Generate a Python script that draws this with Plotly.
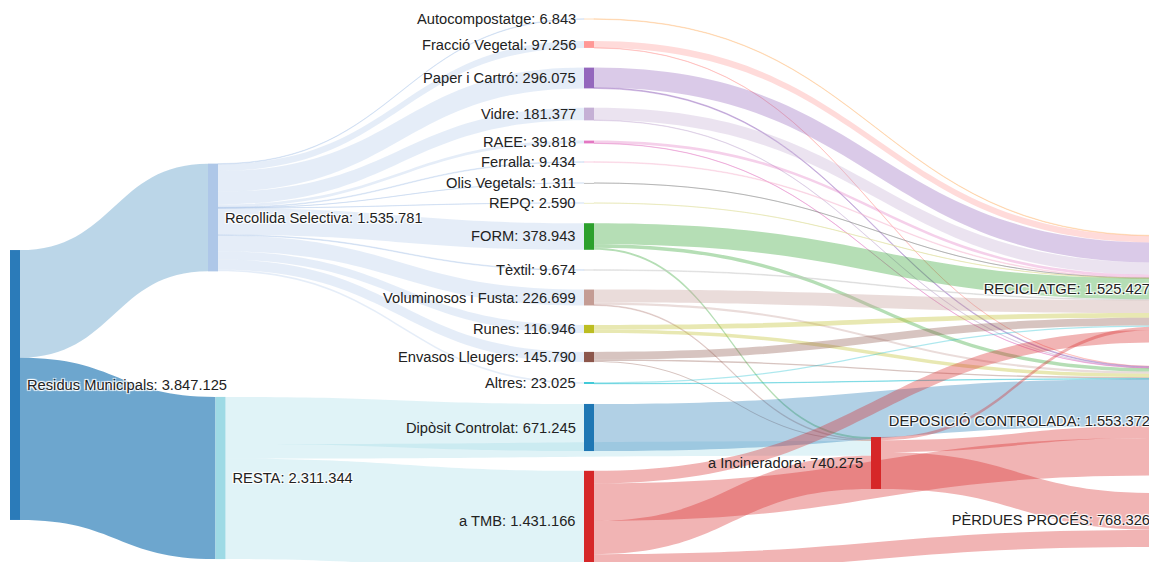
import plotly.graph_objects as go

# ---------------- data ----------------
node_names = [
    "Residus Municipals", "Recollida Selectiva", "RESTA",
    "Autocompostatge", "Fracció Vegetal", "Paper i Cartró", "Vidre", "RAEE",
    "Ferralla", "Olis Vegetals", "REPQ", "FORM", "Tèxtil",
    "Voluminosos i Fusta", "Runes", "Envasos Lleugers", "Altres",
    "Dipòsit Controlat", "a TMB", "a Incineradora",
    "RECICLATGE", "DEPOSICIÓ CONTROLADA", "PÈRDUES PROCÉS",
]
node_totals = [
    3847125, 1535781, 2311344,
    6843, 97256, 296075, 181377, 39818,
    9434, 1311, 2590, 378943, 9674,
    226699, 116946, 145790, 23025,
    671245, 1431166, 740275,
    1525427, 1553372, 768326,
]
node_colors = [
    "#2b7bb9", "#aec7e8", "#9edae5",
    "#ffbb78", "#ff9896", "#9467bd", "#c5b0d5", "#e377c2",
    "#f7b6d2", "#7f7f7f", "#dbdb8d", "#2ca02c", "#c7c7c7",
    "#c49c94", "#bcbd22", "#8c564b", "#17becf",
    "#1f77b4", "#d62728", "#d62728",
    "#98df8a", "#1f77b4", "#d62728",
]

link_source = [0, 0,
               1, 1, 1, 1, 1, 1, 1, 1, 1, 1, 1, 1, 1, 1,
               2, 2, 2,
               3, 4, 4, 5, 5, 6, 6, 7, 7, 8, 9, 10,
               11, 11, 11, 12, 13, 13, 13, 14, 14, 15, 15, 15, 16, 16,
               17,
               18, 18, 18, 18,
               19, 19, 19]
link_target = [1, 2,
               3, 4, 5, 6, 7, 8, 9, 10, 11, 12, 13, 14, 15, 16,
               17, 19, 18,
               20, 20, 21, 20, 21, 20, 21, 20, 21, 20, 20, 20,
               20, 21, 19, 20, 20, 21, 19, 20, 21, 20, 21, 19, 20, 21,
               21,
               20, 19, 21, 22,
               20, 21, 22]
link_value = [1535781, 2311344,
              6843, 97256, 296075, 181377, 39818, 9434, 1311, 2590, 378943, 9674, 226699, 116946, 145790, 23025,
              671245, 208933, 1431166,
              6843, 94256, 3000, 284075, 12000, 176377, 5000, 36818, 3000, 9434, 1311, 2590,
              298943, 50000, 30000, 9674, 185000, 30000, 11699, 66946, 50000, 110000, 20000, 15790, 18160, 4865,
              671245,
              180000, 473853, 534262, 243051,
              45000, 170000, 525275]

# ---------------- layout (positions / styles, in pixels of the visible page) ----------------
W, H = 1157, 562
SHIFT = 8          # page body margin that offsets the whole figure
THICK = 10
GAP = 7            # distance between node and its label

node_cx = [15, 213, 220.5] + [589] * 16 + [876] + [1162] * 3
node_cy = [385, 217.5, 478,
           19, 44.5, 78, 114, 142, 162, 183, 203,
           236.5, 270, 297.5, 329, 357, 383,
           427.5, 521, 463,
           289, 421, 520]
# nodes whose label sits on their left side (plotly would draw it on the right)
left_label_nodes = list(range(3, 20))


def hex_rgba(h, a):
    h = h.lstrip("#")
    return "rgba(%d,%d,%d,%.2f)" % (int(h[0:2], 16), int(h[2:4], 16), int(h[4:6], 16), a)


link_colors = []
for s, t in zip(link_source, link_target):
    if s == 0 and t == 2:
        link_colors.append(hex_rgba("#1f77b4", 0.65))
    elif s == 0:
        link_colors.append(hex_rgba("#1f77b4", 0.30))
    elif s in (1, 2):
        link_colors.append(hex_rgba(node_colors[s], 0.32))
    else:
        link_colors.append(hex_rgba(node_colors[s], 0.35))

labels = ["%s: %s" % (n, f"{v:,}".replace(",", ".")) for n, v in zip(node_names, node_totals)]
plot_labels = ["" if i in left_label_nodes else lab for i, lab in enumerate(labels)]

node_x = [(cx - SHIFT) / W for cx in node_cx]
node_y = [(cy - SHIFT) / H for cy in node_cy]

FONT = dict(family="Liberation Sans, Arial, sans-serif", size=14.7, color="#222222")

fig = go.Figure(go.Sankey(
    arrangement="fixed",
    domain=dict(x=[0, 1], y=[0, 1]),
    node=dict(
        label=plot_labels,
        color=node_colors,
        x=node_x,
        y=node_y,
        pad=20.45,
        thickness=THICK,
        line=dict(width=8, color="rgba(0,0,0,0)"),
    ),
    link=dict(
        source=link_source,
        target=link_target,
        value=link_value,
        color=link_colors,
    ),
    textfont=FONT,
    hoverinfo="none",
))

annotations = []
for i in left_label_nodes:
    annotations.append(dict(
        text=labels[i],
        x=(node_cx[i] - THICK / 2 - GAP - SHIFT) / W,
        y=1 - (node_cy[i] - SHIFT) / H,
        xref="paper", yref="paper",
        xanchor="right", yanchor="middle",
        showarrow=False, borderpad=0,
        font=FONT,
    ))

fig.update_layout(
    width=W, height=H,
    margin=dict(l=0, r=0, t=0, b=0),
    paper_bgcolor="white",
    annotations=annotations,
)
fig.write_html("out.html")
